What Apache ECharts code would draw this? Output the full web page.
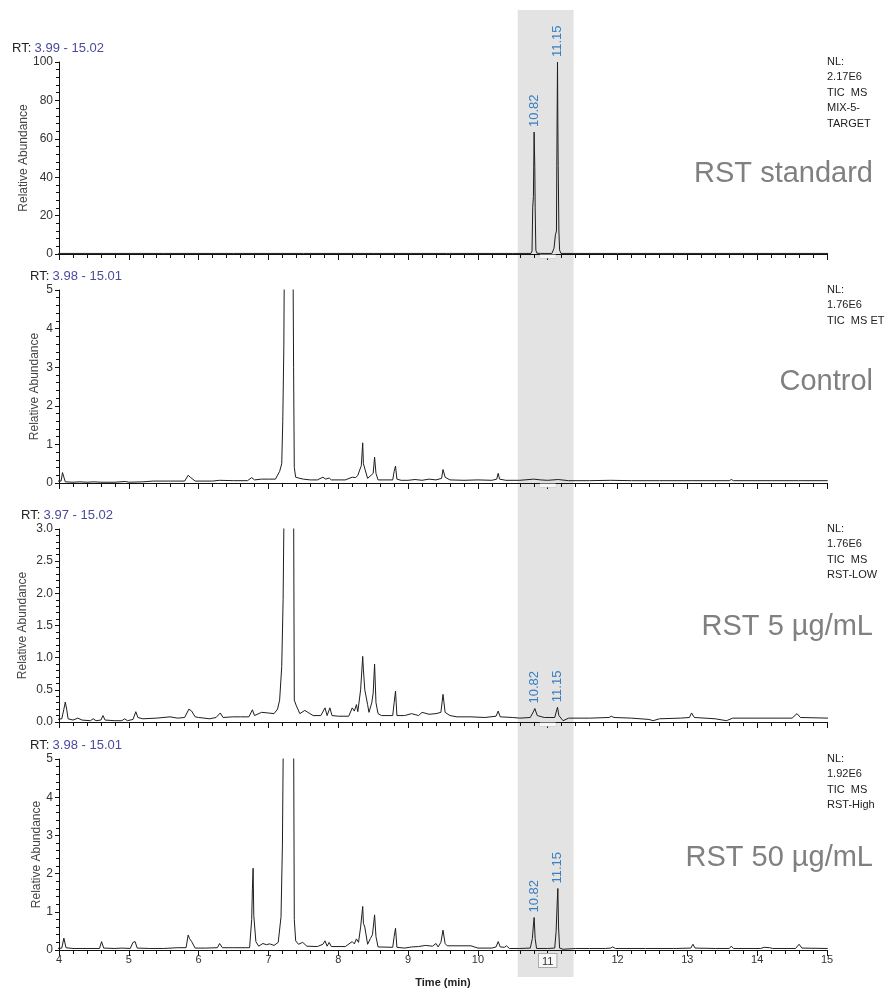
<!DOCTYPE html>
<html>
<head>
<meta charset="utf-8">
<script src="https://cdn.jsdelivr.net/npm/echarts@6/dist/echarts.min.js"></script>
<style>
  html, body { margin: 0; padding: 0; background: #fff; }
  #chart { width: 896px; height: 995px; }
</style>
</head>
<body>
<div id="chart"></div>
<script>
// time range shared by all panels (min)
const timeRange = [4, 15];
// shaded retention window
const bandRange = [10.57, 11.37];

// RST standard trace [time, relative abundance]
const stdTrace = [
  [3.99, 0.3], [4.5, 0.3], [5.5, 0.3], [6.5, 0.3], [7.5, 0.3], [8.5, 0.3], [9.55, 0.3],
  [9.57, 0.9], [9.59, 0.3], [10.5, 0.3], [10.76, 0.3], [10.775, 1.5], [10.785, 24], [10.795, 30],
  [10.805, 63.5], [10.815, 45], [10.82, 24], [10.83, 2], [10.845, 0.4], [10.9, 0.3],
  [11.06, 0.3], [11.09, 3], [11.11, 10], [11.125, 12], [11.13, 46], [11.14, 100],
  [11.145, 68], [11.15, 46], [11.16, 12], [11.17, 2], [11.19, 0.3], [12, 0.3], [15.02, 0.3]
];
const stdPeaks = [[10.805, 63.5, '10.82'], [11.14, 100, '11.15']];

// Control trace
const controlTrace = [
  [3.98, 0.05], [4.03, 0.05], [4.05, 0.27], [4.07, 0.24], [4.09, 0.03], [4.2, 0.02], [4.3, 0.03],
  [4.4, 0.02], [4.5, 0.03], [4.6, 0.02], [4.8, 0.02], [4.95, 0.04], [5.0, 0.02], [5.2, 0.03],
  [5.35, 0.05], [5.6, 0.05], [5.8, 0.05], [5.85, 0.2], [5.88, 0.15], [5.9, 0.12], [5.95, 0.05],
  [6.2, 0.05], [6.3, 0.07], [6.5, 0.06], [6.7, 0.06], [6.76, 0.14], [6.8, 0.08], [6.9, 0.1],
  [7.0, 0.1], [7.1, 0.1], [7.16, 0.3], [7.19, 0.5], [7.205, 1.6], [7.22, 3.5], [7.235, 8],
  [7.3, 30], [7.345, 8], [7.36, 3], [7.37, 0.4], [7.39, 0.15], [7.45, 0.12], [7.5, 0.1],
  [7.6, 0.08], [7.7, 0.08], [7.78, 0.15], [7.82, 0.1], [7.87, 0.13], [7.9, 0.08], [8.1, 0.08],
  [8.2, 0.15], [8.25, 0.14], [8.28, 0.2], [8.3, 0.15], [8.33, 0.45], [8.35, 1.04], [8.36, 0.5],
  [8.38, 0.45], [8.42, 0.12], [8.47, 0.2], [8.5, 0.25], [8.52, 0.67], [8.54, 0.25], [8.57, 0.08],
  [8.78, 0.08], [8.8, 0.3], [8.82, 0.44], [8.84, 0.1], [8.9, 0.07], [9.0, 0.07], [9.1, 0.09],
  [9.2, 0.07], [9.3, 0.1], [9.4, 0.08], [9.48, 0.12], [9.5, 0.35], [9.53, 0.15], [9.6, 0.08],
  [9.8, 0.07], [10.0, 0.08], [10.2, 0.07], [10.27, 0.1], [10.29, 0.25], [10.31, 0.1], [10.4, 0.07],
  [10.6, 0.07], [10.8, 0.1], [10.9, 0.08], [11.0, 0.07], [11.15, 0.09], [11.3, 0.06], [11.6, 0.06],
  [11.9, 0.07], [12.2, 0.06], [12.6, 0.06], [13.04, 0.06], [13.06, 0.1], [13.08, 0.06], [13.6, 0.06],
  [13.63, 0.09], [13.66, 0.06], [14.2, 0.06], [14.59, 0.06], [14.61, 0.11], [14.63, 0.06], [15.01, 0.06]
];

// RST 5 µg/mL trace
const lowTrace = [
  [3.97, 0.04], [4.04, 0.05], [4.07, 0.2], [4.09, 0.31], [4.11, 0.2], [4.13, 0.05], [4.2, 0.03],
  [4.27, 0.06], [4.33, 0.03], [4.45, 0.02], [4.49, 0.05], [4.53, 0.02], [4.6, 0.03], [4.63, 0.1],
  [4.66, 0.03], [4.8, 0.02], [4.9, 0.02], [4.94, 0.05], [4.98, 0.02], [5.06, 0.04], [5.1, 0.16],
  [5.13, 0.07], [5.2, 0.05], [5.4, 0.06], [5.59, 0.08], [5.7, 0.06], [5.8, 0.07], [5.86, 0.2],
  [5.88, 0.23], [5.9, 0.17], [5.92, 0.19], [5.95, 0.08], [6.0, 0.07], [6.16, 0.05], [6.25, 0.07],
  [6.31, 0.14], [6.35, 0.07], [6.49, 0.08], [6.6, 0.08], [6.72, 0.08], [6.77, 0.19], [6.8, 0.1],
  [6.9, 0.15], [7.0, 0.14], [7.08, 0.13], [7.13, 0.2], [7.16, 0.34], [7.19, 0.86], [7.21, 1.9],
  [7.225, 3.5], [7.3, 20], [7.36, 3.5], [7.37, 0.34], [7.4, 0.25], [7.45, 0.13], [7.52, 0.18],
  [7.58, 0.14], [7.64, 0.1], [7.75, 0.1], [7.81, 0.22], [7.84, 0.1], [7.88, 0.22], [7.91, 0.1],
  [8.0, 0.09], [8.15, 0.09], [8.2, 0.22], [8.23, 0.17], [8.26, 0.27], [8.28, 0.16], [8.32, 0.5],
  [8.35, 1.02], [8.36, 0.81], [8.38, 0.5], [8.42, 0.27], [8.44, 0.15], [8.48, 0.3], [8.5, 0.45],
  [8.52, 0.9], [8.54, 0.3], [8.57, 0.13], [8.62, 0.1], [8.78, 0.1], [8.8, 0.3], [8.82, 0.48],
  [8.84, 0.1], [8.95, 0.1], [9.05, 0.13], [9.15, 0.1], [9.2, 0.15], [9.3, 0.12], [9.4, 0.13],
  [9.47, 0.15], [9.5, 0.43], [9.53, 0.15], [9.6, 0.1], [9.7, 0.08], [9.9, 0.08], [10.1, 0.07],
  [10.26, 0.09], [10.29, 0.17], [10.32, 0.08], [10.5, 0.07], [10.6, 0.06], [10.75, 0.07],
  [10.8, 0.17], [10.815, 0.21], [10.85, 0.1], [10.95, 0.07], [11.1, 0.07], [11.14, 0.23],
  [11.16, 0.1], [11.22, 0.02], [11.3, 0.06], [11.6, 0.06], [11.88, 0.07], [11.91, 0.09],
  [11.95, 0.07], [12.2, 0.06], [12.45, 0.04], [12.51, 0.02], [12.6, 0.05], [12.9, 0.06],
  [13.03, 0.07], [13.06, 0.14], [13.1, 0.07], [13.4, 0.05], [13.56, 0.02], [13.65, 0.06],
  [14.0, 0.06], [14.3, 0.06], [14.5, 0.06], [14.57, 0.13], [14.62, 0.07], [15.02, 0.06]
];
const lowPeaks = [[10.815, 0.21, '10.82'], [11.14, 0.23, '11.15']];

// RST 50 µg/mL trace
const highTrace = [
  [3.98, 0.04], [4.04, 0.05], [4.07, 0.31], [4.1, 0.06], [4.2, 0.04], [4.4, 0.04], [4.58, 0.04],
  [4.61, 0.22], [4.64, 0.05], [4.8, 0.04], [4.9, 0.05], [5.02, 0.04], [5.06, 0.2], [5.09, 0.22],
  [5.12, 0.05], [5.3, 0.04], [5.5, 0.04], [5.51, 0.06], [5.7, 0.06], [5.82, 0.06], [5.85, 0.39],
  [5.87, 0.3], [5.9, 0.22], [5.95, 0.05], [6.1, 0.05], [6.27, 0.06], [6.3, 0.17], [6.34, 0.06],
  [6.5, 0.06], [6.73, 0.06], [6.76, 0.8], [6.77, 1.6], [6.78, 2.14], [6.79, 0.9], [6.82, 0.22],
  [6.86, 0.1], [6.92, 0.17], [6.97, 0.14], [7.02, 0.16], [7.08, 0.12], [7.14, 0.2], [7.18, 0.87],
  [7.2, 2.75], [7.215, 6], [7.3, 40], [7.36, 6], [7.37, 0.8], [7.39, 0.24], [7.43, 0.15],
  [7.49, 0.2], [7.55, 0.1], [7.7, 0.09], [7.78, 0.15], [7.81, 0.24], [7.84, 0.1], [7.87, 0.2],
  [7.9, 0.09], [8.1, 0.09], [8.2, 0.22], [8.23, 0.16], [8.26, 0.29], [8.29, 0.2], [8.32, 0.6],
  [8.35, 1.14], [8.36, 0.7], [8.38, 0.6], [8.42, 0.15], [8.46, 0.3], [8.49, 0.4], [8.52, 0.92],
  [8.54, 0.35], [8.57, 0.08], [8.78, 0.07], [8.8, 0.35], [8.82, 0.57], [8.84, 0.07], [8.95, 0.05],
  [9.05, 0.08], [9.15, 0.09], [9.25, 0.12], [9.35, 0.1], [9.4, 0.17], [9.43, 0.08], [9.47, 0.2],
  [9.5, 0.52], [9.53, 0.17], [9.56, 0.11], [9.7, 0.11], [9.9, 0.11], [10.0, 0.05], [10.2, 0.05],
  [10.26, 0.08], [10.29, 0.22], [10.32, 0.08], [10.38, 0.07], [10.41, 0.11], [10.45, 0.04],
  [10.6, 0.04], [10.75, 0.05], [10.78, 0.3], [10.795, 0.65], [10.805, 0.85], [10.82, 0.3],
  [10.84, 0.04], [11.0, 0.04], [11.1, 0.05], [11.12, 0.48], [11.135, 1.2], [11.145, 1.61],
  [11.155, 0.6], [11.17, 0.05], [11.22, 0.02], [11.4, 0.04], [11.6, 0.04], [11.79, 0.04],
  [11.81, 0.07], [11.83, 0.04], [11.9, 0.05], [11.93, 0.08], [11.97, 0.04], [12.4, 0.04],
  [12.8, 0.04], [12.82, 0.07], [12.84, 0.04], [13.05, 0.05], [13.08, 0.15], [13.11, 0.05],
  [13.4, 0.04], [13.6, 0.04], [13.63, 0.1], [13.66, 0.04], [14.05, 0.04], [14.1, 0.07],
  [14.18, 0.06], [14.22, 0.04], [14.55, 0.04], [14.6, 0.15], [14.64, 0.05], [15.01, 0.04]
];
const highPeaks = [[10.805, 0.85, '10.82'], [11.145, 1.61, '11.15']];

// y axis scales per panel: [max, interval]
const yScales = [[100, 20], [5, 1], [3, 0.5], [5, 1]];
const rtLabels = ['3.99 - 15.02', '3.98 - 15.01', '3.97 - 15.02', '3.98 - 15.01'];
const nlLabels = [
  ['NL:', '2.17E6', 'TIC  MS', 'MIX-5-', 'TARGET'],
  ['NL:', '1.76E6', 'TIC  MS ET'],
  ['NL:', '1.76E6', 'TIC  MS', 'RST-LOW'],
  ['NL:', '1.92E6', 'TIC  MS', 'RST-High']
];
const sampleNames = ['RST standard', 'Control', 'RST 5 µg/mL', 'RST 50 µg/mL'];

const traces = [stdTrace, controlTrace, lowTrace, highTrace];
const peaks = [stdPeaks, [], lowPeaks, highPeaks];

// layout
const gridTops = [62, 290, 529, 759];
const gridHeights = [192, 193, 193, 191];
const nameGaps = [29, 18, 30, 16];
const rtX = [12, 30, 21, 30];
const sampleY = [174, 382, 627, 858];
const FONT = '"Liberation Sans", Arial, sans-serif';

const chart = echarts.init(document.getElementById('chart'), null, { renderer: 'canvas' });

const grids = [], xAxes = [], yAxes = [], series = [];
for (let i = 0; i < 4; i++) {
  const last = i === 3;
  grids.push({ left: 59, right: 69, top: gridTops[i], height: gridHeights[i] });
  xAxes.push({
    type: 'value', gridIndex: i, min: timeRange[0], max: timeRange[1], interval: 1,
    axisLine: { lineStyle: { color: '#111', width: 1 } },
    axisTick: { show: true, length: 6, lineStyle: { color: '#111' } },
    minorTick: { show: true, splitNumber: 5, length: 4, lineStyle: { color: '#111' } },
    splitLine: { show: false },
    axisLabel: last ? {
      fontFamily: FONT, fontSize: 11, color: '#333', margin: 4,
      formatter: v => v === 11 ? '{box|11}' : String(v),
      rich: { box: { fontFamily: FONT, fontSize: 11, color: '#333', borderColor: '#aaa', borderWidth: 1, padding: [2, 3, 0, 3], backgroundColor: '#f8f8f8' } }
    } : {
      margin: 1,
      formatter: v => v === 11 ? '{box|}' : '',
      rich: { box: { width: 16, height: 3, backgroundColor: '#f7f7f7', borderColor: '#c8c8c8', borderWidth: 0.5 } }
    },
    name: last ? 'Time (min)' : '',
    nameLocation: 'middle', nameGap: 27, nameMoveOverlap: false,
    nameTextStyle: { fontFamily: FONT, fontSize: 11, fontWeight: 'bold', color: '#222' }
  });
  yAxes.push({
    type: 'value', gridIndex: i, min: 0, max: yScales[i][0], interval: yScales[i][1],
    axisLine: { show: true, lineStyle: { color: '#111', width: 1 } },
    axisTick: { show: true, length: 4, lineStyle: { color: '#111' } },
    minorTick: { show: true, splitNumber: 5, length: 3, lineStyle: { color: '#111' } },
    splitLine: { show: false },
    axisLabel: {
      fontFamily: FONT, fontSize: 12, color: '#333', margin: 6,
      formatter: v => i === 2 ? v.toFixed(1) : String(v)
    },
    name: 'Relative Abundance', nameLocation: 'middle', nameGap: nameGaps[i], nameMoveOverlap: false,
    nameTextStyle: { fontFamily: FONT, fontSize: 12, color: '#444' }
  });
  series.push({
    type: 'line', xAxisIndex: i, yAxisIndex: i,
    data: traces[i], showSymbol: false, symbol: 'none', clip: true,
    lineStyle: { color: '#1e1e1e', width: 1 },
    silent: true, animation: false,
    markPoint: peaks[i].length ? {
      symbol: 'circle', symbolSize: 0, silent: true, animation: false,
      label: {
        show: true, position: 'top', distance: 5, rotate: 90,
        align: 'left', verticalAlign: 'middle',
        fontFamily: FONT, fontSize: 13, color: '#3a7fc0', formatter: '{b}'
      },
      data: peaks[i].map(p => ({ name: p[2], coord: [p[0], p[1]] }))
    } : undefined
  });
}

chart.setOption({
  animation: false,
  backgroundColor: '#fff',
  grid: grids, xAxis: xAxes, yAxis: yAxes, series: series
});

// shaded band and panel annotations
const bx0 = chart.convertToPixel({ xAxisIndex: 0 }, bandRange[0]);
const bx1 = chart.convertToPixel({ xAxisIndex: 0 }, bandRange[1]);
const graphics = [{
  type: 'rect', z: -10, silent: true,
  shape: { x: bx0, y: 10, width: bx1 - bx0, height: 967 },
  style: { fill: '#e3e3e3' }
}];
for (let i = 0; i < 4; i++) {
  graphics.push({
    type: 'text', left: rtX[i], top: gridTops[i] - 20, silent: true,
    style: {
      text: '{a|RT:} {b|' + rtLabels[i] + '}',
      rich: {
        a: { fontFamily: FONT, fontSize: 13, fill: '#222' },
        b: { fontFamily: FONT, fontSize: 13, fill: '#4a4a9c' }
      }
    }
  });
  nlLabels[i].forEach((t, k) => {
    graphics.push({
      type: 'text', x: 827, y: gridTops[i] + k * 15.4, silent: true,
      style: { text: t, fontFamily: FONT, fontSize: 11, fill: '#222', align: 'left', verticalAlign: 'middle' }
    });
  });
  graphics.push({
    type: 'text', x: 873, y: sampleY[i], silent: true,
    style: { text: sampleNames[i], fontFamily: FONT, fontSize: 29, fill: '#808080', align: 'right', verticalAlign: 'middle' }
  });
}
chart.setOption({ graphic: { elements: graphics } });
</script>
</body>
</html>
